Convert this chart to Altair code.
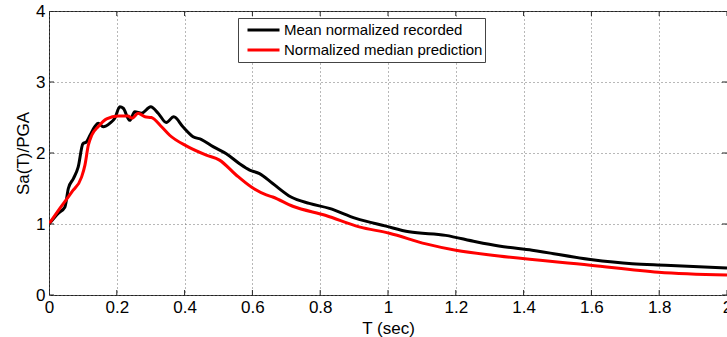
import altair as alt
import pandas as pd

# ---- data ----
series_names = ["Mean normalized recorded", "Normalized median prediction"]
series_colors = ["#000000", "#ff0000"]

rec_T = [0.0, 0.027, 0.047, 0.057, 0.072, 0.086, 0.10, 0.111, 0.121, 0.135,
         0.145, 0.16, 0.18, 0.194, 0.209, 0.219, 0.238, 0.253, 0.273, 0.30,
         0.322, 0.346, 0.368, 0.395, 0.425, 0.45, 0.484, 0.523, 0.562, 0.592,
         0.621, 0.66, 0.714, 0.768, 0.827, 0.905, 0.994, 1.062, 1.17, 1.259,
         1.327, 1.425, 1.597, 1.72, 1.818, 2.0]
rec_Sa = [1.0, 1.15, 1.24, 1.50, 1.64, 1.80, 2.13, 2.16, 2.25, 2.37,
          2.42, 2.37, 2.42, 2.49, 2.65, 2.63, 2.46, 2.58, 2.56, 2.65,
          2.56, 2.43, 2.51, 2.37, 2.23, 2.19, 2.09, 1.99, 1.85, 1.76,
          1.71, 1.57, 1.38, 1.29, 1.22, 1.08, 0.97, 0.89, 0.84, 0.75,
          0.69, 0.63, 0.50, 0.44, 0.42, 0.38]

pred_T = [0.0, 0.032, 0.067, 0.096, 0.106, 0.116, 0.126, 0.145, 0.17, 0.204,
          0.233, 0.245, 0.263, 0.283, 0.302, 0.332, 0.356, 0.405, 0.464, 0.503,
          0.552, 0.597, 0.641, 0.66, 0.719, 0.817, 0.915, 1.004, 1.112, 1.2,
          1.327, 1.597, 1.798, 2.0]
pred_Sa = [1.0, 1.22, 1.45, 1.66, 1.83, 2.11, 2.25, 2.37, 2.48, 2.52,
           2.52, 2.49, 2.56, 2.51, 2.50, 2.37, 2.25, 2.10, 1.97, 1.90,
           1.69, 1.52, 1.41, 1.38, 1.25, 1.12, 0.96, 0.87, 0.72, 0.63,
           0.55, 0.42, 0.32, 0.28]

x_ticks = [0, 0.2, 0.4, 0.6, 0.8, 1.0, 1.2, 1.4, 1.6, 1.8, 2.0]
y_ticks = [0, 1, 2, 3, 4]

x_title = "T (sec)"
y_title = "Sa(T)/PGA"

df = pd.concat([
    pd.DataFrame({"T": rec_T, "Sa": rec_Sa, "series": series_names[0]}),
    pd.DataFrame({"T": pred_T, "Sa": pred_Sa, "series": series_names[1]}),
], ignore_index=True)
df_xt = pd.DataFrame({"T": x_ticks})
df_yt = pd.DataFrame({"Sa": y_ticks})

FONT = "Liberation Sans, Arial, Helvetica, sans-serif"
x_scale = alt.Scale(domain=[0, 2], nice=False, zero=False)
y_scale = alt.Scale(domain=[0, 4], nice=False)

x_axis = alt.Axis(values=x_ticks, format="~g", title=x_title, grid=True,
                  gridDash=[1, 3], gridColor="#707070", gridOpacity=1,
                  ticks=False, domain=False, labelPadding=4,
                  labelFont=FONT, labelFontSize=17, labelColor="#000",
                  titleFont=FONT, titleFontSize=17, titleFontWeight="normal",
                  titleColor="#000", titleY=38, titleBaseline="alphabetic",
                  labelFlush=False)
y_axis = alt.Axis(values=y_ticks, format="d", title=y_title, grid=True,
                  gridDash=[1, 3], gridColor="#707070", gridOpacity=1,
                  ticks=False, domain=False, labelPadding=4,
                  labelFont=FONT, labelFontSize=17, labelColor="#000",
                  titleFont=FONT, titleFontSize=17, titleFontWeight="normal",
                  titleColor="#000", titleX=-21, titleBaseline="alphabetic",
                  labelFlush=False)

lines = alt.Chart(df).mark_line(strokeWidth=3, clip=True,
                                interpolate="monotone").encode(
    x=alt.X("T:Q", scale=x_scale, axis=x_axis),
    y=alt.Y("Sa:Q", scale=y_scale, axis=y_axis),
    color=alt.Color(
        "series:N",
        scale=alt.Scale(domain=series_names, range=series_colors),
        legend=alt.Legend(
            title=None, orient="none", legendX=189, legendY=7,
            symbolType="stroke", symbolSize=1024, symbolStrokeWidth=3,
            clipHeight=20, padding=2, symbolOffset=6, labelOffset=3,
            labelFont=FONT, labelFontSize=15, labelColor="#000",
            labelLimit=400, rowPadding=0, strokeColor="#444",
            fillColor="#ffffff",
        ),
    ),
)

tick_style = dict(thickness=1, size=10, color="#222", clip=True, opacity=1)
xt_bottom = alt.Chart(df_xt).mark_tick(orient="vertical", **tick_style).encode(
    x=alt.X("T:Q", title=x_title), y=alt.datum(0))
xt_top = alt.Chart(df_xt).mark_tick(orient="vertical", **tick_style).encode(
    x=alt.X("T:Q", title=x_title), y=alt.datum(4))
yt_left = alt.Chart(df_yt).mark_tick(orient="horizontal", **tick_style).encode(
    y=alt.Y("Sa:Q", title=y_title), x=alt.datum(0))
yt_right = alt.Chart(df_yt).mark_tick(orient="horizontal", **tick_style).encode(
    y=alt.Y("Sa:Q", title=y_title), x=alt.datum(2))

chart = alt.layer(lines, xt_bottom, xt_top, yt_left, yt_right).properties(
    width=678, height=284,
    autosize=alt.AutoSizeParams(type="none"),
    padding={"left": 49, "top": 11, "right": 0, "bottom": 42},
    background="#ffffff",
).configure_view(stroke="#222", strokeWidth=1)

chart.save("out.html", embed_options={"renderer": "svg", "actions": False})
